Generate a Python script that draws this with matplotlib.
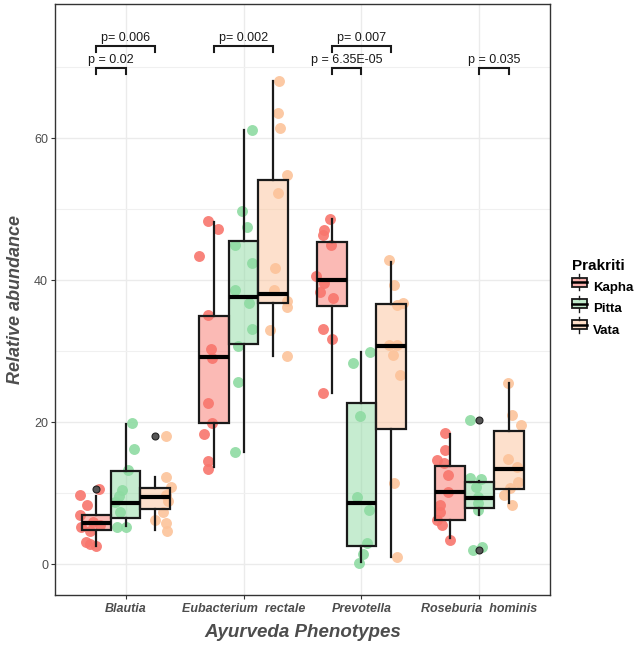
import numpy as np
import matplotlib
matplotlib.use("Agg")
import matplotlib.pyplot as plt
from matplotlib.patches import Rectangle, Patch
from matplotlib.lines import Line2D
from matplotlib.legend_handler import HandlerBase

plt.rcParams['font.family'] = ['Liberation Sans', 'DejaVu Sans']

taxa = ["Blautia", "Eubacterium  rectale", "Prevotella", "Roseburia  hominis"]
groups = ["Kapha", "Pitta", "Vata"]
point_col = {"Kapha": "#F8766D", "Pitta": "#8EDBA2", "Vata": "#FCC39A"}

# box stats: (whislo, q1, med, q3, whishi)
kapha_box = [(2.6, 4.8, 5.9, 6.9, 9.7), (13.7, 19.9, 29.2, 35.0, 48.2),
             (24.2, 36.4, 40.1, 45.4, 48.6), (3.7, 6.2, 10.2, 13.8, 18.4)]
pitta_box = [(5.4, 6.6, 8.7, 13.2, 19.8), (15.9, 31.0, 37.7, 45.6, 61.2),
             (0.3, 2.6, 8.6, 22.7, 29.9), (6.9, 7.9, 9.4, 11.6, 11.8)]
vata_box = [(4.8, 7.8, 9.5, 10.7, 12.3), (29.3, 36.8, 38.1, 54.1, 68.1),
            (1.0, 19.0, 30.8, 36.6, 42.6), (8.6, 10.6, 13.4, 18.8, 25.5)]
kapha_out = [[10.6], [], [], []]
pitta_out = [[], [], [], [20.4, 2.0]]
vata_out = [[18.1], [], [], []]

# jittered samples: values and horizontal jitter (category units)
kapha_pts = [
    [9.8, 10.6, 8.3, 6.9, 6.0, 5.6, 5.3, 4.7, 3.2, 2.9, 2.6],
    [48.3, 47.2, 43.4, 35.1, 30.4, 29.0, 22.7, 19.9, 18.4, 14.5, 13.5],
    [48.6, 47.1, 46.4, 45.0, 40.6, 39.6, 38.4, 37.5, 33.2, 31.8, 24.2],
    [18.5, 16.1, 14.7, 14.3, 12.6, 10.2, 8.4, 7.4, 6.2, 5.5, 3.5],
]
kapha_jit = [
    [-0.14, 0.02, -0.08, -0.14, -0.03, 0.03, -0.13, -0.05, -0.09, -0.05, 0.0],
    [-0.05, 0.03, -0.13, -0.05, -0.03, -0.02, -0.05, -0.02, -0.09, -0.05, -0.05],
    [-0.02, -0.07, -0.08, -0.01, -0.14, -0.07, -0.10, 0.01, -0.08, 0.0, -0.08],
    [-0.04, -0.04, -0.11, -0.05, -0.02, -0.02, -0.08, -0.08, -0.11, -0.07, 0.0],
]
pitta_pts = [
    [19.9, 16.2, 13.3, 10.5, 9.6, 8.8, 7.4, 5.3, 5.3],
    [61.2, 49.8, 47.5, 45.0, 42.4, 38.6, 36.8, 33.1, 30.8, 25.7, 15.9],
    [29.9, 28.3, 20.9, 9.5, 7.6, 3.0, 1.5, 0.2],
    [20.4, 12.1, 12.0, 10.9, 9.5, 8.6, 7.6, 2.1, 2.5],
]
pitta_jit = [
    [0.05, 0.07, 0.02, -0.03, -0.06, -0.09, -0.05, -0.07, 0.0],
    [0.07, -0.01, 0.03, -0.07, 0.07, -0.07, 0.05, 0.07, -0.05, -0.05, -0.07],
    [0.07, -0.07, -0.01, -0.04, 0.06, 0.05, 0.01, -0.02],
    [-0.08, -0.08, 0.01, -0.03, -0.01, -0.01, -0.01, -0.05, 0.02],
]
vata_pts = [
    [18.1, 12.3, 10.9, 9.8, 9.0, 7.4, 6.3, 5.8, 4.7],
    [68.1, 63.5, 61.5, 54.8, 52.3, 41.8, 38.6, 37.1, 36.3, 33.0, 29.3],
    [42.8, 39.3, 36.5, 36.8, 30.9, 30.9, 29.5, 26.7, 11.4, 1.0],
    [25.5, 21.0, 19.7, 14.8, 13.7, 11.6, 10.7, 9.8, 8.4],
]
vata_jit = [
    [0.09, 0.09, 0.13, 0.09, 0.11, 0.07, 0.0, 0.09, 0.10],
    [0.05, 0.04, 0.06, 0.12, 0.04, 0.02, 0.01, 0.12, 0.12, -0.03, 0.12],
    [-0.02, 0.03, 0.05, 0.10, -0.02, 0.05, 0.02, 0.08, 0.03, 0.05],
    [-0.01, 0.03, 0.10, -0.01, 0.07, 0.08, 0.01, -0.04, 0.03],
]

# significance brackets: (taxon index, group a, group b, y, label)
brackets = [
    (0, "Kapha", "Vata", 73.0, "p= 0.006"),
    (0, "Kapha", "Pitta", 69.9, "p = 0.02"),
    (1, "Kapha", "Vata", 73.0, "p= 0.002"),
    (2, "Kapha", "Vata", 73.0, "p= 0.007"),
    (2, "Kapha", "Pitta", 69.9, "p = 6.35E-05"),
    (3, "Pitta", "Vata", 69.9, "p = 0.035"),
]

dodge = {"Kapha": -0.25, "Pitta": 0.0, "Vata": 0.25}
box_w = 0.25
boxes = {"Kapha": kapha_box, "Pitta": pitta_box, "Vata": vata_box}
outs = {"Kapha": kapha_out, "Pitta": pitta_out, "Vata": vata_out}
pts = {"Kapha": kapha_pts, "Pitta": pitta_pts, "Vata": vata_pts}
jits = {"Kapha": kapha_jit, "Pitta": pitta_jit, "Vata": vata_jit}


def light(c, a=0.5):
    r, g, b, _ = matplotlib.colors.to_rgba(c)
    return (r, g, b, a)


fig = plt.figure(figsize=(6.38, 6.47), dpi=100)
ax = fig.add_axes([0.0862, 0.0804, 0.776, 0.9134])

for g in groups:
    for i in range(len(taxa)):
        pos = i + 1 + dodge[g]
        x = pos + np.array(jits[g][i])
        ax.scatter(x, pts[g][i], s=62, color=point_col[g], alpha=0.9,
                   linewidths=0, zorder=2)
        lo, q1, med, q3, hi = boxes[g][i]
        st = dict(whislo=lo, q1=q1, med=med, q3=q3, whishi=hi,
                  fliers=outs[g][i])
        ax.bxp([st], positions=[pos], widths=box_w, patch_artist=True,
               showcaps=False, manage_ticks=False, zorder=3,
               boxprops=dict(facecolor=light(point_col[g]), edgecolor='#1a1a1a',
                             linewidth=1.6),
               whiskerprops=dict(color='#1a1a1a', linewidth=1.6),
               medianprops=dict(color='black', linewidth=3),
               flierprops=dict(marker='o', markersize=5, markerfacecolor='#555555',
                               markeredgecolor='#222222', markeredgewidth=0.8))

for ti, a, b, y, lab in brackets:
    xa = ti + 1 + dodge[a]
    xb = ti + 1 + dodge[b]
    ax.plot([xa, xa, xb, xb], [y - 0.9, y, y, y - 0.9], color='#1a1a1a',
            linewidth=1.5, zorder=4, solid_joinstyle='miter')
    ax.text((xa + xb) / 2, y + 0.3, lab, ha='center', va='bottom',
            fontsize=9, color='#1a1a1a', zorder=5)

ax.set_xlim(0.4, 4.6)
ax.set_ylim(-4.3, 78.9)
ax.set_xticks(range(1, len(taxa) + 1))
ax.set_xticklabels(taxa, fontsize=9, fontweight='bold', fontstyle='italic',
                   color='#4D4D4D')
ax.set_yticks([0, 20, 40, 60])
ax.set_yticks([10, 30, 50, 70], minor=True)
ax.tick_params(axis='y', labelsize=9, labelcolor='#4D4D4D', color='#333333',
               length=3, width=0.8, pad=2)
ax.tick_params(axis='y', which='minor', length=0)
ax.tick_params(axis='x', color='#333333', length=3, width=0.8, pad=3)
ax.grid(True, which='major', color='#EBEBEB', linewidth=1.0, zorder=0)
ax.grid(True, which='minor', axis='y', color='#F0F0F0', linewidth=0.8, zorder=0)
ax.set_axisbelow(True)
for s in ax.spines.values():
    s.set_color('#333333')
    s.set_linewidth(1.0)

ax.set_xlabel("Ayurveda Phenotypes", fontsize=13.5, fontweight='bold',
              fontstyle='italic', color='#4D4D4D', labelpad=6)
ax.set_ylabel("Relative abundance", fontsize=13, fontweight='bold',
              fontstyle='italic', color='#4D4D4D', labelpad=7)


class BoxKey(HandlerBase):
    def create_artists(self, legend, orig, xd, yd, w, h, fs, trans):
        fc = orig.get_facecolor()
        cx = xd + w / 2
        r = Rectangle((xd, yd + 0.15 * h), w, 0.7 * h, facecolor=fc,
                      edgecolor='#1a1a1a', linewidth=1.3, transform=trans)
        m = Line2D([xd, xd + w], [yd + 0.5 * h] * 2, color='black',
                   linewidth=1.8, transform=trans)
        w1 = Line2D([cx, cx], [yd - 0.12 * h, yd + 0.15 * h], color='#1a1a1a',
                    linewidth=1.0, transform=trans)
        w2 = Line2D([cx, cx], [yd + 0.85 * h, yd + 1.12 * h], color='#1a1a1a',
                    linewidth=1.0, transform=trans)
        return [r, m, w1, w2]


handles = [Patch(facecolor=light(point_col[g], 0.55), label=g) for g in groups]
leg = fig.legend(handles=handles, labels=groups, loc='center left',
                 bbox_to_anchor=(0.878, 0.54), frameon=False, title="Prakriti",
                 handler_map={Patch: BoxKey()}, handlelength=1.1,
                 handleheight=1.15, handletextpad=0.5, labelspacing=0.55,
                 prop=dict(size=9.5, weight='bold'),
                 title_fontproperties=dict(size=11, weight='bold'))
leg._legend_box.align = "left"

fig.savefig("out.png", dpi=100)
